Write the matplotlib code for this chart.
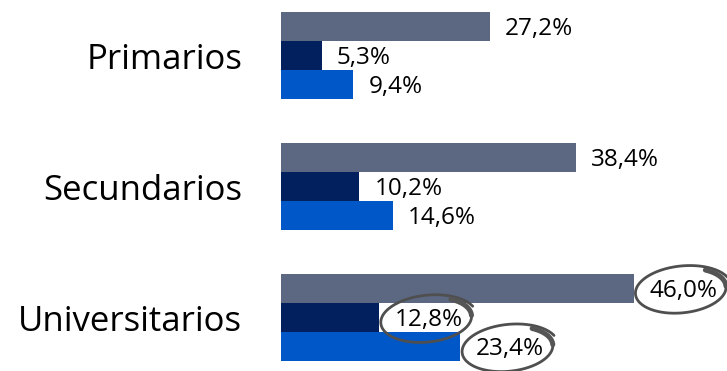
import numpy as np
import matplotlib.pyplot as plt
import matplotlib.transforms as mtransforms

plt.rcParams['font.family'] = ['Open Sans', 'DejaVu Sans']

categories = ['Primarios', 'Secundarios', 'Universitarios']
serie_a = [27.2, 38.4, 46.0]   # gris azulado (arriba)
serie_b = [5.3, 10.2, 12.8]    # azul marino (medio)
serie_c = [9.4, 14.6, 23.4]    # azul (abajo)
circled = {(0, 2), (1, 2), (2, 2)}  # (serie, categoria) marcados a mano

colors = ['#5c6882', '#021f5e', '#0057c8']
series = [serie_a, serie_b, serie_c]

fig = plt.figure(figsize=(7.27, 3.71), dpi=100)
ax = fig.add_axes([281 / 727, 0, 1 - 281 / 727, 1])

y = np.arange(len(categories))
h = 0.223
offsets = [-h, 0, h]

labels = {}
for i, (vals, col, off) in enumerate(zip(series, colors, offsets)):
    ax.barh(y + off, vals, height=h, color=col)
    for j, v in enumerate(vals):
        t = ax.annotate(f"{v:.1f}".replace('.', ',') + '%', (v, y[j] + off),
                        xytext=(11, -2), textcoords='offset points',
                        ha='left', va='center', fontsize=17.5, color='black')
        labels[(i, j)] = t

ax.set_xlim(0, 446 / 7.67)
ax.set_ylim((371 - 55.5) / 131, -55.5 / 131)
ax.set_yticks(y)
ax.set_yticklabels(categories, fontsize=25)
ax.tick_params(axis='y', length=0, pad=28)
ax.set_xticks([])
for s in ax.spines.values():
    s.set_visible(False)

# trazos a mano alrededor de las etiquetas marcadas
fig.canvas.draw()
renderer = fig.canvas.get_renderer()
ident = mtransforms.IdentityTransform()
for key in circled:
    bb = labels[key].get_window_extent(renderer)
    cx, cy = (bb.x0 + bb.x1) / 2 - 1, (bb.y0 + bb.y1) / 2 + 1
    rx, ry = bb.width / 2 + 12, bb.height / 2 + 11
    t = np.linspace(0.95, 0.95 - 2 * np.pi - 0.6, 220)
    grow = 0.94 + 0.13 * (t[0] - t) / (t[0] - t[-1])
    rot = 0.1
    ex = rx * grow * np.cos(t)
    ey = ry * grow * np.sin(t)
    xs = cx + ex * np.cos(rot) - ey * np.sin(rot)
    ys = cy + ex * np.sin(rot) + ey * np.cos(rot)
    ax.plot(xs, ys, color='#4f4f4f', lw=2.0, transform=ident,
            clip_on=False, solid_capstyle='round')
    ax.plot(xs[:32], ys[:32], color='#555555', lw=3.6, transform=ident,
            clip_on=False, solid_capstyle='round')

fig.savefig('out.png', dpi=100)
